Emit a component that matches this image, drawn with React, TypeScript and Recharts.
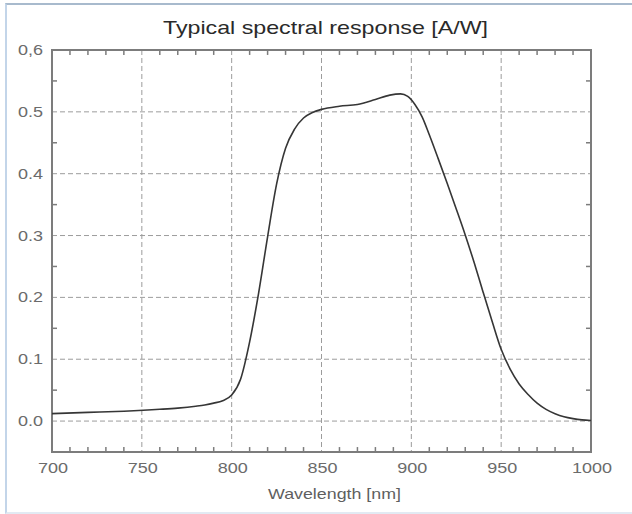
import React from 'react';
import {
  LineChart,
  Line,
  XAxis,
  YAxis,
  CartesianGrid,
  ReferenceArea,
  ReferenceLine,
} from 'recharts';

// wavelength [nm] and typical response [A/W]
const wavelengths = [
  700, 720, 740, 760, 770, 780, 785, 790, 795, 800, 805, 810, 815, 820, 825, 830, 835, 840, 845,
  850, 860, 870, 880, 888, 894, 898, 902, 906, 910, 915, 920, 925, 930, 935, 940, 945, 950, 955,
  960, 965, 970, 975, 980, 985, 990, 995, 1000,
];
const response = [
  0.012, 0.014, 0.016, 0.019, 0.021, 0.024, 0.026, 0.029, 0.033, 0.042, 0.068, 0.128, 0.207,
  0.298, 0.383, 0.441, 0.472, 0.49, 0.499, 0.504, 0.509, 0.512, 0.52, 0.527, 0.529, 0.525, 0.512,
  0.492, 0.463, 0.424, 0.384, 0.343, 0.301, 0.256, 0.208, 0.161, 0.116, 0.084, 0.06, 0.043, 0.029,
  0.019, 0.012, 0.007, 0.004, 0.002, 0.001,
];

const xTicks = [700, 750, 800, 850, 900, 950, 1000];
const yTicks = [0, 0.1, 0.2, 0.3, 0.4, 0.5, 0.6];
const yTickLabels = ['0.0', '0.1', '0.2', '0.3', '0.4', '0.5', '0,6'];
const xMinorTicks = [
  710, 720, 730, 740, 760, 770, 780, 790, 810, 820, 830, 840, 860, 870, 880, 890, 910, 920, 930,
  940, 960, 970, 980, 990,
];
const yMinorTicks = [0.05, 0.15, 0.25, 0.35, 0.45, 0.55];

const data = wavelengths.map((wl, i) => ({ wl, r: response[i] }));

const X_MIN = 700;
const X_MAX = 1000;
const Y_MIN = -0.05;
const Y_MAX = 0.6;
// inward tick length expressed in data units (~5px)
const TICK_DY = 0.008;
const TICK_DX = 2.8;

const FONT = '"Liberation Sans", Arial, sans-serif';
const TICK_COLOR = '#6b6b6b';
const FRAME = '#7c7c7c';

const XTick = (props: any) => {
  const { x, y, payload } = props;
  return (
    <g transform={`translate(${x + 1},${y + 21}) scale(1.2,1)`}>
      <text x={0} y={0} textAnchor="middle" fill={TICK_COLOR} fontSize={15} fontFamily={FONT}>
        {payload.value}
      </text>
    </g>
  );
};

const YTick = (props: any) => {
  const { x, y, payload } = props;
  const idx = yTicks.findIndex((t) => Math.abs(t - payload.value) < 1e-9);
  return (
    <g transform={`translate(${x - 9},${y + 5}) scale(1.2,1)`}>
      <text x={0} y={0} textAnchor="end" fill={TICK_COLOR} fontSize={15} fontFamily={FONT}>
        {idx >= 0 ? yTickLabels[idx] : payload.value}
      </text>
    </g>
  );
};

const AxisTitle = (props: any) => {
  const vb = props.viewBox || { x: 52, width: 539 };
  return (
    <text
      x={vb.x + vb.width / 2 + 13}
      y={499}
      textAnchor="middle"
      fill="#5f5f5f"
      fontSize={15}
      fontFamily={FONT}
      textLength={133}
      lengthAdjust="spacingAndGlyphs"
    >
      Wavelength [nm]
    </text>
  );
};

export default function App() {
  return (
    <div
      style={{
        position: 'absolute',
        left: 0,
        top: 0,
        width: 632,
        height: 514,
        background: '#ffffff',
        overflow: 'hidden',
      }}
    >
      <div
        style={{
          position: 'absolute',
          left: 5,
          top: 3,
          width: 627,
          height: 507,
          borderTop: '2px solid #a8bacd',
          borderLeft: '2px solid #c3d5e9',
          borderBottom: '2px solid #e2eaf3',
        }}
      />
      <svg
        width={632}
        height={50}
        style={{ position: 'absolute', left: 0, top: 0 }}
      >
        <text
          x={325.5}
          y={34}
          textAnchor="middle"
          fill="#2a2a2a"
          fontSize={19}
          fontFamily={FONT}
          textLength={325}
          lengthAdjust="spacingAndGlyphs"
        >
          Typical spectral response [A/W]
        </text>
      </svg>
      <div style={{ position: 'absolute', left: 0, top: 0 }}>
        <LineChart
          width={632}
          height={514}
          data={data}
          margin={{ top: 50, right: 41, bottom: 0, left: 0 }}
        >
          <CartesianGrid
            stroke="#9c9c9c"
            strokeDasharray="5 3"
            strokeWidth={1}
            horizontalValues={yTicks}
            verticalValues={xTicks}
          />
          <XAxis
            type="number"
            dataKey="wl"
            domain={[X_MIN, X_MAX]}
            ticks={xTicks}
            allowDataOverflow
            axisLine={false}
            tickLine={false}
            tickSize={0}
            tickMargin={0}
            height={62}
            tick={<XTick />}
            label={{ content: <AxisTitle /> }}
          />
          <YAxis
            type="number"
            domain={[Y_MIN, Y_MAX]}
            ticks={yTicks}
            allowDataOverflow
            axisLine={false}
            tickLine={false}
            tickSize={0}
            tickMargin={0}
            width={52}
            tick={<YTick />}
          />
          {xMinorTicks.map((t) => (
            <ReferenceLine
              key={`xb${t}`}
              segment={[
                { x: t, y: Y_MIN },
                { x: t, y: Y_MIN + TICK_DY },
              ]}
              stroke={FRAME}
              strokeWidth={1.5}
            />
          ))}
          {xMinorTicks.map((t) => (
            <ReferenceLine
              key={`xt${t}`}
              segment={[
                { x: t, y: Y_MAX },
                { x: t, y: Y_MAX - TICK_DY },
              ]}
              stroke={FRAME}
              strokeWidth={1.5}
            />
          ))}
          {yMinorTicks.map((t) => (
            <ReferenceLine
              key={`yl${t}`}
              segment={[
                { x: X_MIN, y: t },
                { x: X_MIN + TICK_DX, y: t },
              ]}
              stroke={FRAME}
              strokeWidth={1.5}
            />
          ))}
          {yMinorTicks.map((t) => (
            <ReferenceLine
              key={`yr${t}`}
              segment={[
                { x: X_MAX, y: t },
                { x: X_MAX - TICK_DX, y: t },
              ]}
              stroke={FRAME}
              strokeWidth={1.5}
            />
          ))}
          <Line
            type="monotone"
            dataKey="r"
            stroke="#363636"
            strokeWidth={1.6}
            dot={false}
            isAnimationActive={false}
          />
          <ReferenceArea
            x1={X_MIN}
            x2={X_MAX}
            y1={Y_MIN}
            y2={Y_MAX}
            fill="none"
            fillOpacity={0}
            stroke={FRAME}
            strokeWidth={2}
          />
        </LineChart>
      </div>
    </div>
  );
}
